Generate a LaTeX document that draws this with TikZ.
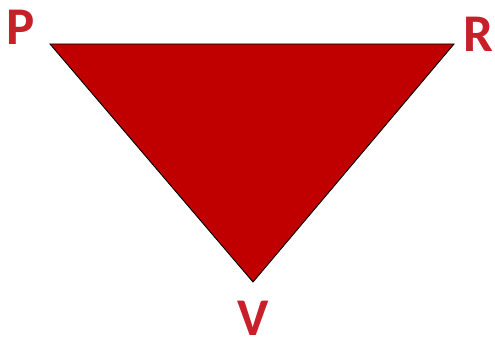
\documentclass[tikz,border=0pt]{standalone}
\usepackage{fontspec}
\setmainfont{Carlito}
\usepackage{tikz}
\usetikzlibrary{positioning}
\definecolor{trired}{RGB}{192,0,0}
\definecolor{labred}{RGB}{200,32,40}
\tikzset{
  tri/.style  ={draw=black, fill=trired, line width=0.9pt, line join=miter},
  vlab/.style ={font=\fontsize{53}{53}\selectfont\bfseries, text=labred,
                inner sep=0pt, text depth=0pt, anchor=base},
}
\begin{document}
\begin{tikzpicture}[x=1pt, y=-1pt]
  \useasboundingbox (0,0) rectangle (495,344);
  % ---- corners of the triangle
  \coordinate (p) at (50,44);
  \coordinate (r) at (454,44);
  \coordinate (v) at (253,282);
  \draw[tri] (p) -- (r) -- (v) -- cycle;
  % ---- corner letters
  \node[vlab] (lp) at (21,45)  {P};
  \node[vlab] (lr) at (478,52) {R};
  \node[vlab] (lv) at (253,336) {V};
\end{tikzpicture}
\end{document}
